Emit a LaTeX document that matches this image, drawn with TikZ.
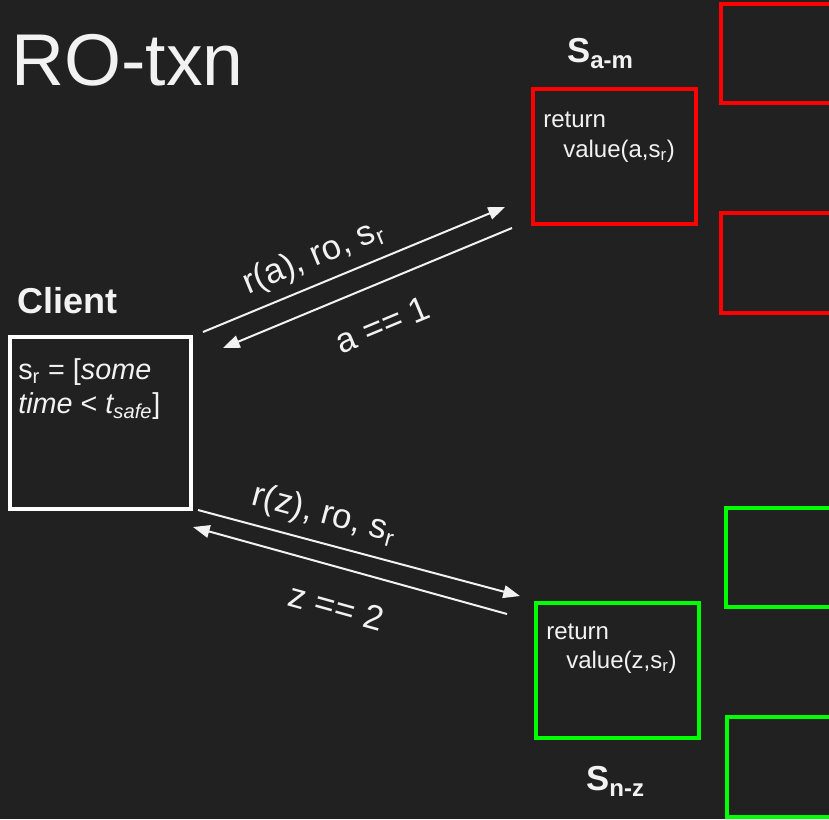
\documentclass[tikz,border=0pt]{standalone}
\usepackage{fontspec}
\setmainfont{Liberation Sans}
\usetikzlibrary{arrows.meta,fit}
\definecolor{bg}{HTML}{212121}
\definecolor{fg}{HTML}{F2F2F2}
\definecolor{redb}{HTML}{FF0000}
\definecolor{greenb}{HTML}{00FF00}
\newcommand{\srv}[2]{\textbf{#1\raisebox{-5pt}{\fontsize{18}{19}\selectfont #2}}}
\begin{document}
\begin{tikzpicture}[x=0.75pt,y=-0.75pt,
  box/.style={draw=#1, line width=2.3pt, inner sep=0pt, rectangle},
  txt/.style={text=fg, anchor=base west, inner sep=0pt, font=\fontsize{18}{20}\selectfont},
  ctxt/.style={text=fg, anchor=base west, inner sep=0pt, font=\fontsize{21.6}{24}\selectfont},
  title/.style={text=fg, anchor=base west, inner sep=0pt, font=\fontsize{55}{60}\selectfont},
  head/.style={text=fg, anchor=base west, inner sep=0pt, font=\bfseries\fontsize{27}{30}\selectfont},
  shead/.style={text=fg, anchor=base west, inner sep=0pt, font=\fontsize{26}{30}\selectfont},
  msg/.style={draw=fg, line width=1.5pt, -{Triangle[length=12.5pt,width=9.5pt]}},
  lbl/.style={text=fg, font=\fontsize{26}{28}\selectfont, sloped, inner sep=0pt}
]
\fill[bg] (0,0) rectangle (829,819);
\useasboundingbox (0,0) rectangle (829,819);

% title
\node[title] (ttl) at (11,85) {RO-txn};

% client
\node[head] (clientlbl) at (17,313) {Client};
\node[box=white, fit={(10,337) (191,509)}] (client) {};
\node[ctxt] (c1) at (18,379) {s\textsubscript{r} = [\textit{some}};
\node[ctxt] (c2) at (18,413) {\textit{time} < \textit{t\textsubscript{safe}}]};

% server a-m
\node[shead] (sam) at (567,62) {\srv{S}{a-m}};
\node[box=redb, fit={(533,89) (696,224)}] (am) {};
\node[txt] (am1) at (543,127) {return};
\node[txt] (am2) at (563,157) {value(a,s\textsubscript{r})};
\node[box=redb, fit={(721,4) (845,103)}] (r1) {};
\node[box=redb, fit={(721,213) (845,313)}] (r2) {};

% server n-z
\node[shead] (snz) at (586,790) {\srv{S}{n-z}};
\node[box=greenb, fit={(536,603) (699,738)}] (nz) {};
\node[txt] (nz1) at (546,639) {return};
\node[txt] (nz2) at (566,668) {value(z,s\textsubscript{r})};
\node[box=greenb, fit={(726,508) (845,607)}] (g1) {};
\node[box=greenb, fit={(727,717) (845,817)}] (g2) {};

% messages
\coordinate (a1s) at (203,332);
\coordinate (a1e) at (505,207);
\coordinate (a2s) at (512,228);
\coordinate (a2e) at (223,348);
\coordinate (a3s) at (198,510);
\coordinate (a3e) at (520,596);
\coordinate (a4s) at (507,614);
\coordinate (a4e) at (193,527);

\draw[msg] (a1s) -- node[lbl, pos=0.40, above=7pt] {r(a), ro, s\textsubscript{r}} (a1e);
\draw[msg] (a2s) -- node[lbl, pos=0.50, below=20pt] {a == 1} (a2e);
\draw[msg] (a3s) -- node[lbl, pos=0.37, above=8pt] {r(z), ro, s\textsubscript{r}} (a3e);
\draw[msg] (a4s) -- node[lbl, pos=0.51, below=19pt] {z == 2} (a4e);
\end{tikzpicture}
\end{document}
